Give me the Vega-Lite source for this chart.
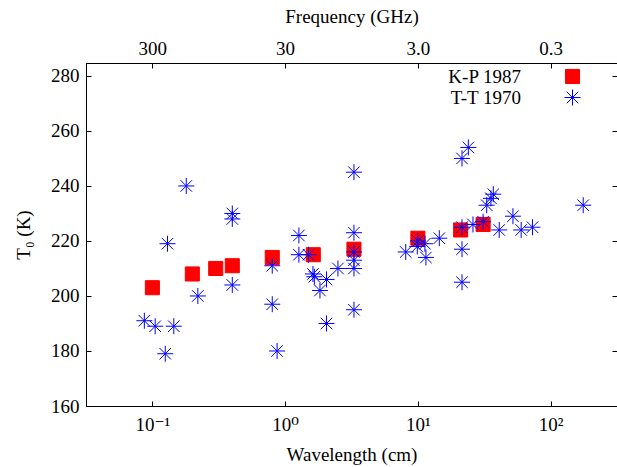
{
  "$schema": "https://vega.github.io/schema/vega-lite/v6.json",
  "autosize": {"type": "none"},
  "padding": {"left": 86, "top": 63, "right": 0, "bottom": 61},
  "width": 531,
  "height": 343,
  "background": "white",
  "config": {
    "font": "Liberation Serif, DejaVu Serif, serif",
    "view": {"stroke": "black", "strokeWidth": 1},
    "axis": {
      "grid": false,
      "domainColor": "black",
      "domainWidth": 1,
      "tickColor": "black",
      "tickSize": -5,
      "labelFont": "Liberation Serif, DejaVu Serif, serif",
      "labelFontSize": 19,
      "labelColor": "black",
      "titleFont": "Liberation Serif, DejaVu Serif, serif",
      "titleFontSize": 19,
      "titleFontWeight": "normal",
      "titleColor": "black",
      "labelPadding": 12
    },
    "legend": {
      "labelFont": "Liberation Serif, DejaVu Serif, serif",
      "labelFontSize": 19,
      "labelColor": "black"
    }
  },
  "data": {
    "values": [
      {"wavelength": 0.1, "T0": 203, "series": "K-P 1987"},
      {"wavelength": 0.2, "T0": 208, "series": "K-P 1987"},
      {"wavelength": 0.3, "T0": 210, "series": "K-P 1987"},
      {"wavelength": 0.4, "T0": 211, "series": "K-P 1987"},
      {"wavelength": 0.8, "T0": 214, "series": "K-P 1987"},
      {"wavelength": 1.63, "T0": 215, "series": "K-P 1987"},
      {"wavelength": 3.3, "T0": 217, "series": "K-P 1987"},
      {"wavelength": 10, "T0": 221, "series": "K-P 1987"},
      {"wavelength": 21, "T0": 224, "series": "K-P 1987"},
      {"wavelength": 31, "T0": 226, "series": "K-P 1987"},
      {"wavelength": 0.087, "T0": 191, "series": "T-T 1970"},
      {"wavelength": 0.105, "T0": 189, "series": "T-T 1970"},
      {"wavelength": 0.125, "T0": 179, "series": "T-T 1970"},
      {"wavelength": 0.13, "T0": 219, "series": "T-T 1970"},
      {"wavelength": 0.145, "T0": 189, "series": "T-T 1970"},
      {"wavelength": 0.18, "T0": 240, "series": "T-T 1970"},
      {"wavelength": 0.22, "T0": 200, "series": "T-T 1970"},
      {"wavelength": 0.4, "T0": 230, "series": "T-T 1970"},
      {"wavelength": 0.4, "T0": 228, "series": "T-T 1970"},
      {"wavelength": 0.4, "T0": 204, "series": "T-T 1970"},
      {"wavelength": 0.8, "T0": 211, "series": "T-T 1970"},
      {"wavelength": 0.8, "T0": 197, "series": "T-T 1970"},
      {"wavelength": 0.87, "T0": 180, "series": "T-T 1970"},
      {"wavelength": 1.27, "T0": 222, "series": "T-T 1970"},
      {"wavelength": 1.27, "T0": 215, "series": "T-T 1970"},
      {"wavelength": 1.5, "T0": 215, "series": "T-T 1970"},
      {"wavelength": 1.62, "T0": 208, "series": "T-T 1970"},
      {"wavelength": 1.66, "T0": 207, "series": "T-T 1970"},
      {"wavelength": 1.83, "T0": 202, "series": "T-T 1970"},
      {"wavelength": 2.05, "T0": 206, "series": "T-T 1970"},
      {"wavelength": 2.05, "T0": 190, "series": "T-T 1970"},
      {"wavelength": 2.5, "T0": 210, "series": "T-T 1970"},
      {"wavelength": 3.3, "T0": 245, "series": "T-T 1970"},
      {"wavelength": 3.3, "T0": 223, "series": "T-T 1970"},
      {"wavelength": 3.3, "T0": 216, "series": "T-T 1970"},
      {"wavelength": 3.3, "T0": 213, "series": "T-T 1970"},
      {"wavelength": 3.3, "T0": 210, "series": "T-T 1970"},
      {"wavelength": 3.3, "T0": 195, "series": "T-T 1970"},
      {"wavelength": 8.1, "T0": 216, "series": "T-T 1970"},
      {"wavelength": 10, "T0": 220, "series": "T-T 1970"},
      {"wavelength": 9.9, "T0": 218, "series": "T-T 1970"},
      {"wavelength": 11.3, "T0": 219, "series": "T-T 1970"},
      {"wavelength": 11.5, "T0": 214, "series": "T-T 1970"},
      {"wavelength": 14.5, "T0": 221, "series": "T-T 1970"},
      {"wavelength": 21.5, "T0": 250, "series": "T-T 1970"},
      {"wavelength": 24, "T0": 254, "series": "T-T 1970"},
      {"wavelength": 21.5, "T0": 225, "series": "T-T 1970"},
      {"wavelength": 21.5, "T0": 217, "series": "T-T 1970"},
      {"wavelength": 21.5, "T0": 205, "series": "T-T 1970"},
      {"wavelength": 26, "T0": 226, "series": "T-T 1970"},
      {"wavelength": 31, "T0": 227, "series": "T-T 1970"},
      {"wavelength": 33, "T0": 233, "series": "T-T 1970"},
      {"wavelength": 35.5, "T0": 235.5, "series": "T-T 1970"},
      {"wavelength": 37, "T0": 237, "series": "T-T 1970"},
      {"wavelength": 41, "T0": 224, "series": "T-T 1970"},
      {"wavelength": 52, "T0": 229, "series": "T-T 1970"},
      {"wavelength": 60, "T0": 224, "series": "T-T 1970"},
      {"wavelength": 73, "T0": 225, "series": "T-T 1970"},
      {"wavelength": 176, "T0": 233, "series": "T-T 1970"}
    ]
  },
  "encoding": {
    "shape": {
      "field": "series", "type": "nominal",
      "scale": {"domain": ["K-P 1987", "T-T 1970"], "range": ["M-0.88,-0.88H0.88V0.88H-0.88Z", "M-1,0L1,0M0,-1L0,1M-0.72,-0.72L0.72,0.72M-0.72,0.72L0.72,-0.72"]},
      "legend": {
        "title": null, "orient": "none", "legendX": 477, "legendY": 4,
        "padding": 0, "labelAlign": "right", "labelOffset": -61,
        "rowPadding": 0, "symbolSize": 256, "symbolStrokeWidth": 1
      }
    },
    "fill": {
      "field": "series", "type": "nominal",
      "scale": {"domain": ["K-P 1987", "T-T 1970"], "range": ["#ff0000", "transparent"]},
      "legend": {
        "title": null, "orient": "none", "legendX": 477, "legendY": 4,
        "padding": 0, "labelAlign": "right", "labelOffset": -61,
        "rowPadding": 0, "symbolSize": 256, "symbolStrokeWidth": 1
      }
    },
    "stroke": {
      "field": "series", "type": "nominal",
      "scale": {"domain": ["K-P 1987", "T-T 1970"], "range": ["#ff0000", "#0000ff"]},
      "legend": {
        "title": null, "orient": "none", "legendX": 477, "legendY": 4,
        "padding": 0, "labelAlign": "right", "labelOffset": -61,
        "rowPadding": 0, "symbolSize": 256, "symbolStrokeWidth": 1
      }
    }
  },
  "layer": [
    {
      "transform": [{"filter": "datum.series == 'K-P 1987'"}],
      "mark": {"type": "point", "size": 256, "opacity": 1, "strokeWidth": 1},
      "encoding": {
        "x": {
          "field": "wavelength", "type": "quantitative",
          "scale": {"type": "log", "domain": [0.031623, 316.23], "nice": false},
          "axis": {
            "orient": "bottom", "values": [0.1, 1, 10, 100],
            "labelExpr": "datum.value < 0.5 ? '10⁻¹' : datum.value < 5 ? '10⁰' : datum.value < 50 ? '10¹' : '10²'",
            "title": "Wavelength (cm)", "titlePadding": 11, "labelPadding": 14
          }
        },
        "y": {
          "field": "T0", "type": "quantitative",
          "scale": {"domain": [160, 284.7], "nice": false, "zero": false},
          "axis": {
            "orient": "left", "values": [160, 180, 200, 220, 240, 260, 280],
            "title": "T₀ (K)", "titlePadding": 17, "labelPadding": 12
          }
        }
      }
    },
    {
      "transform": [{"filter": "datum.series == 'T-T 1970'"}],
      "mark": {"type": "point", "size": 256, "opacity": 1, "strokeWidth": 1},
      "encoding": {
        "x": {
          "field": "wavelength", "type": "quantitative",
          "scale": {"type": "log", "domain": [0.031623, 316.23], "nice": false},
          "axis": {
            "orient": "top", "values": [0.1, 1, 10, 100],
            "labelExpr": "datum.value < 0.5 ? '300' : datum.value < 5 ? '30' : datum.value < 50 ? '3.0' : '0.3'",
            "title": "Frequency (GHz)", "titlePadding": 13, "labelPadding": 10
          }
        },
        "y": {
          "field": "T0", "type": "quantitative",
          "scale": {"domain": [160, 284.7], "nice": false, "zero": false},
          "axis": {
            "orient": "right", "values": [160, 180, 200, 220, 240, 260, 280],
            "labels": false, "title": null
          }
        }
      }
    }
  ],
  "resolve": {"axis": {"x": "independent", "y": "independent"}}
}
